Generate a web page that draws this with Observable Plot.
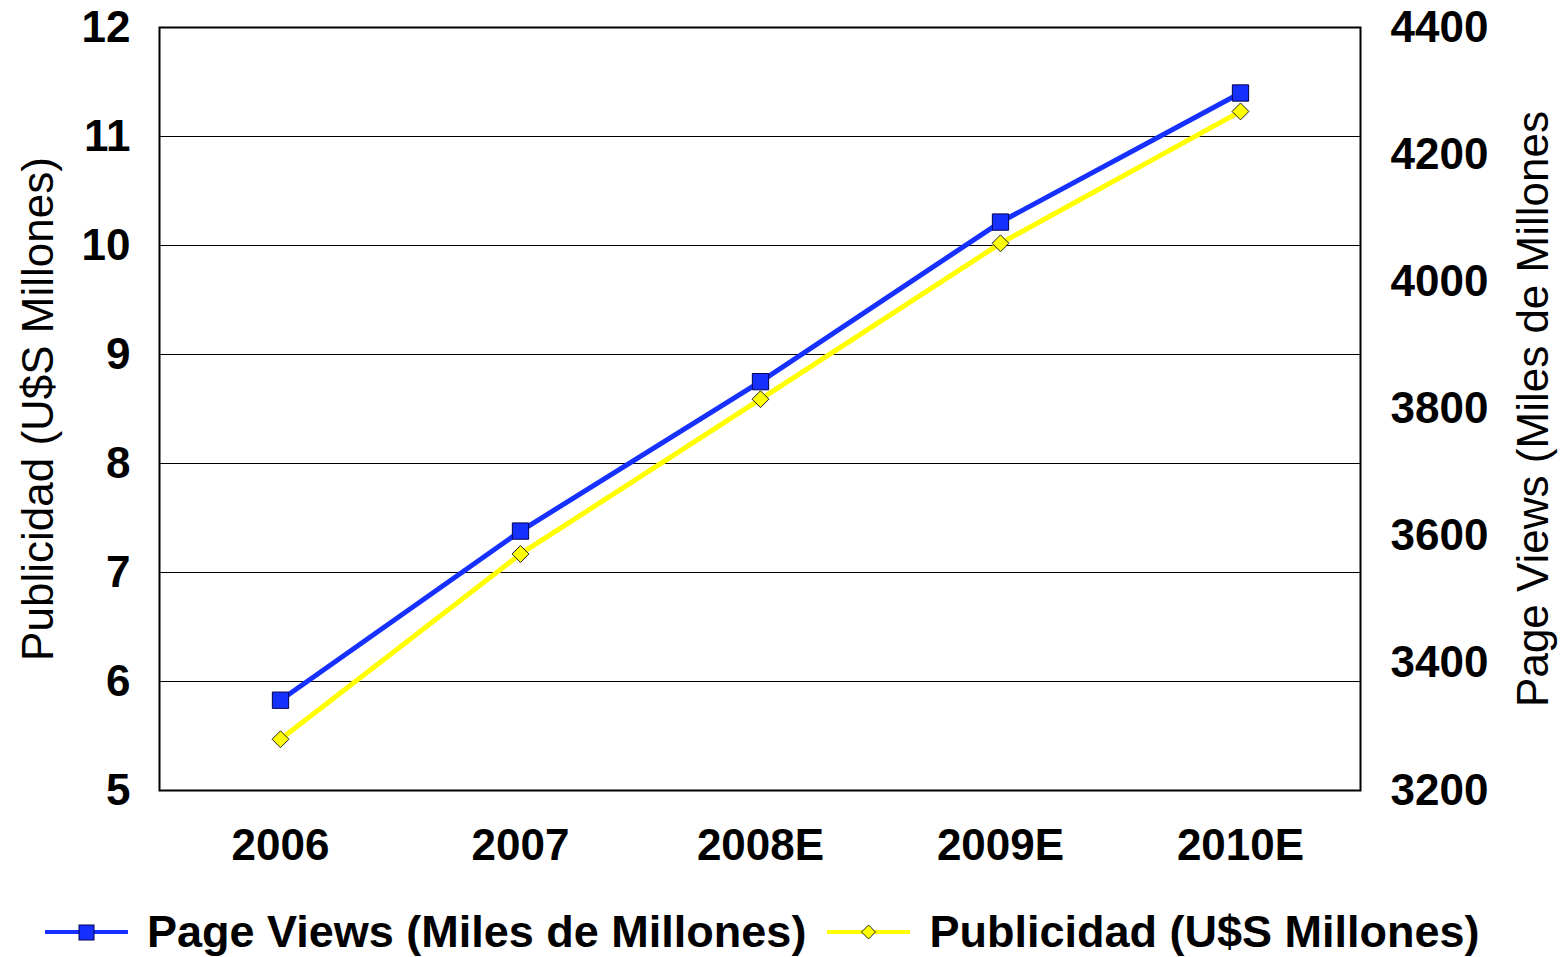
<!DOCTYPE html>
<html>
<head>
<meta charset="utf-8">
<script src="https://cdn.jsdelivr.net/npm/d3@7"></script>
<script src="https://cdn.jsdelivr.net/npm/@observablehq/plot@0.6"></script>
<style>
  body { margin: 0; background: #fff; font-family: "Liberation Sans", Arial, sans-serif; }
  #wrap { width: 1560px; height: 957px; overflow: hidden; background: #fff; }
  #legend { display: flex; align-items: center; height: 72px; padding-top: 22px; padding-left: 45px; font-size: 45px; font-weight: bold; color: #000; white-space: nowrap; box-sizing: border-box; }
  .item { display: flex; align-items: center; }
  .item svg { margin-right: 19px; }
  .item + .item { margin-left: 21px; }
</style>
</head>
<body>
<div id="wrap"></div>
<script>
// Years on the horizontal axis
const years = ["2006", "2007", "2008E", "2009E", "2010E"];
// Page views, billions (right axis)
const pageViews = [3342, 3608, 3843, 4094, 4297];
// Advertising revenue, US$ millions (left axis)
const publicidad = [5.47, 7.17, 8.59, 10.02, 11.23];

const leftTicks = [5, 6, 7, 8, 9, 10, 11, 12];
const rightTicks = [3200, 3400, 3600, 3800, 4000, 4200, 4400];
const leftDomain = [5, 12];
const rightDomain = [3200, 4400];

const blue = "#1530ff";
const yellow = "#ffff00";

// Map a right-axis value into the left-axis domain (shared y scale)
const toLeft = v => leftDomain[0] + (v - rightDomain[0]) * (leftDomain[1] - leftDomain[0]) / (rightDomain[1] - rightDomain[0]);
const rightPos = rightTicks.map(toLeft);

const rows = years.map((year, i) => ({ year, pv: pageViews[i], pub: publicidad[i] }));

const chart = Plot.plot({
  width: 1560,
  height: 885,
  marginLeft: 159,
  marginRight: 200,
  marginTop: 27,
  marginBottom: 95,
  x: { type: "band", domain: years, padding: 0, label: null },
  y: { domain: leftDomain, label: null },
  style: { fontFamily: "'Liberation Sans', Arial, sans-serif", color: "#000", background: "#fff", overflow: "visible" },
  marks: [
    Plot.ruleY(leftTicks.slice(1, -1), { stroke: "#000", strokeWidth: 1 }),
    Plot.frame({ stroke: "#000", strokeWidth: 2 }),
    Plot.axisX({ tickSize: 0, tickPadding: 38, label: null, fontSize: 44, fontWeight: "bold" }),
    Plot.axisY({ ticks: leftTicks, tickFormat: d => String(d), tickSize: 0, tickPadding: 29, label: null, fontSize: 44, fontWeight: "bold" }),
    Plot.axisY(rightPos, {
      anchor: "right", tickSize: 0, tickPadding: 30, label: null, fontSize: 44, fontWeight: "bold",
      tickFormat: d => String(rightTicks[rightPos.indexOf(d)])
    }),
    Plot.text(["Publicidad (U$S Millones)"], { frameAnchor: "left", textAnchor: "middle", dx: -121, rotate: -90, fontSize: 44, fill: "#000" }),
    Plot.text(["Page Views (Miles de Millones"], { frameAnchor: "right", textAnchor: "middle", dx: 173, rotate: -90, fontSize: 44, fill: "#000" }),
    // Page views line, on the right-axis scale
    Plot.line(rows, { x: "year", y: d => toLeft(d.pv), stroke: blue, strokeWidth: 5 }),
    Plot.dot(rows, { x: "year", y: d => toLeft(d.pv), symbol: "square", r: 9.2, fill: blue, stroke: "#000050", strokeWidth: 1 }),
    // Advertising line, on the left-axis scale
    Plot.line(rows, { x: "year", y: "pub", stroke: yellow, strokeWidth: 5 }),
    Plot.dot(rows, { x: "year", y: "pub", symbol: "diamond2", r: 7.6, fill: yellow, stroke: "#222", strokeWidth: 1 })
  ]
});

const wrap = document.getElementById("wrap");
wrap.appendChild(chart);

// Legend below the chart
const legend = document.createElement("div");
legend.id = "legend";
const items = [
  { label: "Page Views (Miles de Millones)", color: blue, stroke: "#000050", shape: "square" },
  { label: "Publicidad (U$S Millones)", color: yellow, stroke: "#222", shape: "diamond" }
];
for (const it of items) {
  const item = document.createElement("div");
  item.className = "item";
  const svg = d3.create("svg").attr("width", 83).attr("height", 24);
  svg.append("line").attr("x1", 1).attr("x2", 82).attr("y1", 12).attr("y2", 12)
    .attr("stroke", it.color).attr("stroke-width", 4).attr("stroke-linecap", "round");
  if (it.shape === "square") {
    svg.append("rect").attr("x", 34).attr("y", 5).attr("width", 15).attr("height", 15)
      .attr("fill", it.color).attr("stroke", it.stroke).attr("stroke-width", 1);
  } else {
    svg.append("path").attr("d", "M41.5,5 L48.5,12 L41.5,19 L34.5,12 Z")
      .attr("fill", it.color).attr("stroke", it.stroke).attr("stroke-width", 1);
  }
  item.appendChild(svg.node());
  const span = document.createElement("span");
  span.textContent = it.label;
  item.appendChild(span);
  legend.appendChild(item);
}
wrap.appendChild(legend);
</script>
</body>
</html>
